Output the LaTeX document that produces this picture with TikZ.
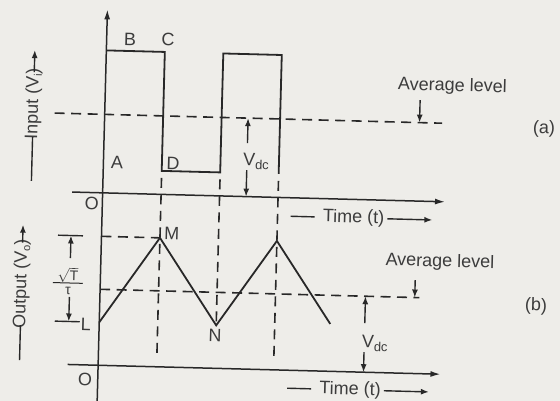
\documentclass[tikz,border=0pt]{standalone}
\usepackage{fontspec}
\setmainfont{Liberation Sans}
\usetikzlibrary{arrows.meta}
\definecolor{paper}{RGB}{238,237,233}
\definecolor{ink}{RGB}{40,40,40}
\definecolor{txt}{RGB}{60,60,60}
\begin{document}
\begin{tikzpicture}[x=1pt,y=-1pt,
  wave/.style={draw=ink,line width=1.8pt,line join=miter},
  axisln/.style={draw=ink,line width=1.5pt,-{Latex[length=10pt,width=6pt]}},
  dashln/.style={draw=ink,line width=1.6pt,dash pattern=on 10pt off 6.5pt},
  arr/.style={draw=ink,line width=1.4pt,-{Latex[length=8pt,width=6pt]}},
  plain/.style={draw=ink,line width=1.4pt},
  lbl/.style={text=txt,font=\fontsize{18}{18}\selectfont,inner sep=0pt},
  small/.style={text=txt,font=\fontsize{14}{14}\selectfont,inner sep=0pt}]
\fill[paper] (0,0) rectangle (560,401);
\useasboundingbox (0,0) rectangle (560,401);
\begin{scope}[rotate around={-1.5:(280,200)},transform shape]
% axes
\coordinate (ytop) at (102.5,14);
\coordinate (ybot) at (102.5,406);
\coordinate (t1s) at (72,197.5);
\coordinate (t1e) at (445,197.5);
\coordinate (t2s) at (72,370);
\coordinate (t2e) at (445,370);
\draw[axisln] (ybot) -- (ytop);
\draw[axisln] (t1s) -- (t1e);
\draw[axisln] (t2s) -- (t2e);
% input square wave
\coordinate (B) at (102.5,55);
\coordinate (C) at (161,55);
\coordinate (D) at (161,174);
\coordinate (E) at (219.5,174);
\coordinate (F) at (219.5,55);
\coordinate (G) at (278,55);
\coordinate (H) at (278,174);
\draw[wave] (B) -- (C) -- (D) -- (E) -- (F) -- (G) -- (H);
% output triangle wave
\coordinate (L) at (102.5,327);
\coordinate (M) at (161,241);
\coordinate (N) at (219.5,327);
\coordinate (P) at (278,241);
\coordinate (Q) at (333.5,322.6);
\draw[wave] (L) -- (M) -- (N) -- (P) -- (Q);
% dashed lines
\coordinate (av1s) at (52.5,119);
\coordinate (av1e) at (440,119);
\draw[dashln] (av1s) -- (av1e);
\coordinate (av2s) at (102.5,294);
\coordinate (av2e) at (422,294);
\draw[dashln] (av2s) -- (av2e);
\coordinate (mls) at (102.5,241);
\draw[dashln] (mls) -- (M);
\coordinate (v1a) at (161,181);
\coordinate (v1b) at (161,360);
\coordinate (v2a) at (219.5,181);
\coordinate (v3a) at (278,181);
\coordinate (v3b) at (278,360);
\draw[dashln] (v1a) -- (v1b);
\draw[dashln] (v2a) -- (N);
\draw[dashln] (v3a) -- (v3b);
% input Vdc
\coordinate (iv1) at (246,144);
\coordinate (iv1t) at (246,119);
\coordinate (iv2) at (246,171);
\coordinate (iv2t) at (246,197.5);
\draw[arr] (iv1) -- (iv1t);
\draw[arr] (iv2) -- (iv2t);
\node[lbl,anchor=base west] (vdc1) at (242,166) {V\raisebox{-4pt}{\fontsize{13}{13}\selectfont dc}};
% output Vdc
\coordinate (ov1) at (368,321);
\coordinate (ov1t) at (368,294);
\coordinate (ov2) at (368,350);
\coordinate (ov2t) at (368,370);
\draw[arr] (ov1) -- (ov1t);
\draw[arr] (ov2) -- (ov2t);
\node[lbl,anchor=base west] (vdc2) at (365.5,345) {V\raisebox{-4pt}{\fontsize{13}{13}\selectfont dc}};
% average level labels
\node[lbl] (avl1) at (449.3,82) {Average level};
\coordinate (aa1) at (417.5,96.4);
\coordinate (aa1t) at (417.5,119);
\draw[arr] (aa1) -- (aa1t);
\node[lbl] (avl2) at (441.6,258) {Average level};
\coordinate (aa2) at (417.3,276.5);
\coordinate (aa2t) at (417.3,294);
\draw[arr] (aa2) -- (aa2t);
% point labels
\node[lbl] (lB) at (125.8,43) {B};
\node[lbl] (lC) at (163.8,42) {C};
\node[lbl] (lA) at (116,167) {A};
\node[lbl] (lD) at (172,166) {D};
\node[lbl] (lO1) at (92,208) {O};
\node[lbl] (lM) at (172.8,236) {M};
\node[lbl] (lN) at (218.5,337) {N};
\node[lbl] (lL) at (89.2,329) {L};
\node[lbl] (lO2) at (89.7,385) {O};
\node[lbl] (la) at (542,122) {(a)};
\node[lbl] (lb) at (538.8,299.5) {(b)};
% time labels
\node[lbl] (tin) at (354,216) {Time (t)};
\draw[plain] ([xshift=-8pt]tin.west) -- ++(-24,0);
\draw[arr] ([xshift=3pt]tin.east) -- ++(45,0);
\node[lbl] (tout) at (355,388) {Time (t)};
\draw[plain] ([xshift=-8pt]tout.west) -- ++(-24,0);
\draw[arr] ([xshift=3pt]tout.east) -- ++(45,0);
% axis labels
\node[lbl,rotate=90] (inp) at (31,110.5) {Input (V\raisebox{-3pt}{\fontsize{11}{11}\selectfont i})};
\draw[arr] ([yshift=-4pt]inp.east) -- ++(0,-22);
\draw[plain] ([yshift=3pt]inp.west) -- ++(0,44);
\node[lbl,rotate=90] (outp) at (23.8,290.2) {Output (V\raisebox{-3pt}{\fontsize{11}{11}\selectfont o})};
\draw[arr] ([yshift=-4pt]outp.east) -- ++(0,-18);
\draw[plain] ([yshift=3pt]outp.west) -- ++(0,35);
% dimension L-M
\coordinate (dt1) at (59,241);
\coordinate (dt2) at (84,241);
\coordinate (db1) at (58,327);
\coordinate (db2) at (83,327);
\draw[plain] (dt1) -- (dt2);
\draw[plain] (db1) -- (db2);
\coordinate (du) at (72,263.5);
\coordinate (dut) at (72,241);
\coordinate (dd) at (72,302.5);
\coordinate (ddt) at (72,327);
\draw[arr] (du) -- (dut);
\draw[arr] (dd) -- (ddt);
\node[small] (fnum) at (70,280.5) {$\sqrt{\hbox{T}}$};
\coordinate (fb1) at (55,288.5);
\coordinate (fb2) at (85,288.5);
\draw[plain,line width=1pt] (fb1) -- (fb2);
\node[small] (fden) at (70.3,296) {τ};
\end{scope}
\end{tikzpicture}
\end{document}
